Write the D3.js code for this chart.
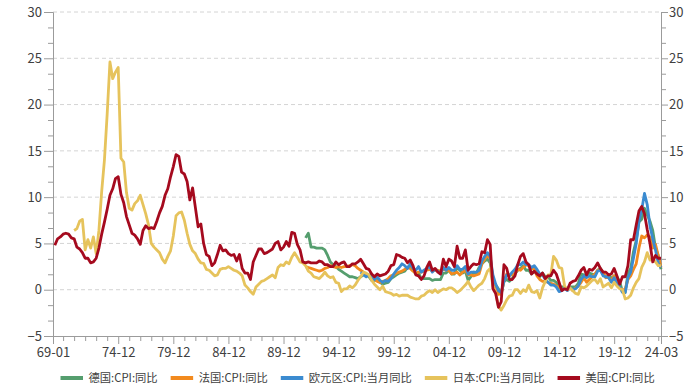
<!DOCTYPE html>
<html><head><meta charset="utf-8">
<script src="https://cdn.jsdelivr.net/npm/d3@7"></script>
<style>
body{margin:0;background:#fff}
svg{display:block}
text{font-family:"Noto Sans CJK SC","Noto Sans",sans-serif}
</style>
</head><body>
<svg id="c" width="690" height="390"></svg>
<script>
// ---- data (quarterly YoY %, step 3 months from the start month) ----
const seriesNames = ["德国:CPI:同比","法国:CPI:同比","欧元区:CPI:当月同比","日本:CPI:当月同比","美国:CPI:同比"];
const seriesColors = ["#559e6e","#f28a1e","#3b8bd0","#e6c35c","#a50a1e"];
const seriesStarts = ["1991-12","1991-12","1996-12","1970-12","1969-03"];

const germanyCPI = [5.6,
 6.1,4.6,4.6,4.5, 4.5,4.5,4.3,3.7, 3.0,2.7,2.5,2.2, 2.0,1.8,1.6,1.4, 1.4,1.3,1.2,1.4,
 1.6,1.7,1.4,1.0, 1.0,1.0,0.8,0.6, 0.7,0.8,1.2,1.4, 1.6,1.8,1.9,2.0, 2.4,2.6,2.1,1.7,
 1.8,1.2,1.2,1.2, 1.2,1.0,1.1,1.1, 1.1,1.8,1.8,2.1, 1.7,1.7,2.4,2.1, 1.8,2.0,1.0,1.4,
 1.9,1.8,2.4,2.8, 3.1,3.3,2.9,1.1, 0.5,0.1,-0.5,0.9, 1.1,0.9,1.2,1.7, 2.1,2.3,2.6,2.1,
 2.1,1.7,2.0,2.0, 1.4,1.8,1.4,1.4, 1.0,1.0,0.8,0.2, 0.3,0.3,0.0,0.3, 0.3,0.3,0.7,1.7,
 1.6,1.6,1.8,1.7, 1.6,2.1,2.3,1.7, 1.3,1.6,1.2,1.5, 1.4,0.9,-0.2,-0.3, 1.7,2.3,4.1,5.3,
 7.3,7.6,8.8,8.1, 7.4,6.4,4.5,3.7, 2.2];

const franceCPI = [2.5,
 2.4,2.3,2.2,2.1, 2.0,2.1,2.3,2.4, 2.6,2.5,2.4,2.5, 2.4,2.5,2.5,2.6, 2.7,2.6,2.3,2.1,
 1.9,1.6,1.5,1.3, 1.1,0.9,0.8,0.9, 1.0,1.2,1.5,1.6, 1.8,1.9,2.0,2.2, 2.4,2.3,2.0,1.8,
 1.9,1.9,2.0,2.1, 2.2,2.0,2.1,2.1, 2.0,2.2,2.1,2.1, 1.7,1.8,1.9,1.6, 1.9,2.1,1.6,1.6,
 1.5,1.6,1.7,2.8, 3.3,3.7,3.4,1.2, 0.4,-0.5,-0.4,0.9, 1.7,1.6,1.6,1.8, 2.2,2.1,2.4,2.7,
 2.6,2.3,2.2,1.5, 1.1,0.9,0.9,0.8, 0.7,0.6,0.4,0.3, 0.0,0.2,0.0,0.2, -0.1,0.2,0.4,0.8,
 1.3,0.8,1.1,1.4, 1.7,2.1,2.2,1.9, 1.3,1.3,1.0,1.5, 0.7,0.2,0.0,0.0, 1.1,1.5,2.2,2.8,
 4.5,5.8,5.6,5.9, 5.7,4.5,4.9,3.7, 2.4];

const euroAreaCPI = [1.9,
 1.6,1.4,1.6,1.5, 1.1,1.4,1.0,0.8, 1.0,0.9,1.2,1.7, 2.1,2.4,2.8,2.6, 2.3,2.8,2.3,2.1,
 2.5,1.9,2.1,2.3, 2.5,1.9,2.2,2.0, 1.7,2.4,2.1,2.4, 2.1,2.1,2.6,2.2, 2.2,2.5,1.7,1.9,
 1.9,1.9,2.1,3.1, 3.6,4.0,3.6,1.6, 0.6,-0.1,-0.3,0.9, 1.6,1.5,1.9,2.2, 2.7,2.7,3.0,2.7,
 2.7,2.4,2.6,2.2, 1.7,1.6,1.1,0.8, 0.5,0.5,0.3,-0.2, -0.1,0.2,-0.1,0.2, 0.0,0.1,0.4,1.1,
 1.5,1.3,1.5,1.4, 1.4,2.0,2.1,1.5, 1.4,1.3,0.8,1.3, 0.7,0.3,-0.3,-0.3, 1.3,1.9,3.4,5.0,
 7.4,8.6,10.4,9.2, 6.9,5.5,4.3,2.9, 2.4];

const japanCPI = [6.4,
 6.6,7.4,7.6,4.3, 5.4,4.5,5.7,3.9, 6.4,10.6,14.0,19.0, 24.6,22.8,23.5,24.0, 14.2,13.8,10.5,8.8,
 8.6,9.3,9.6,10.2, 9.2,8.2,7.0,5.0, 4.6,4.3,4.0,3.3, 2.9,3.6,4.2,5.8, 8.0,8.3,8.4,7.5,
 6.1,4.9,4.2,3.9, 3.3,2.9,2.85,2.2, 2.1,1.8,1.5,1.6, 2.2,2.3,2.3,2.5, 2.3,2.1,2.0,1.8,
 1.5,0.5,0.2,-0.2, -0.5,0.3,0.6,0.9, 1.0,1.2,1.4,1.6, 1.3,2.4,2.7,2.6, 3.0,2.8,3.5,4.0,
 3.5,3.0,2.9,2.6, 2.0,1.8,1.4,1.3, 1.2,1.5,1.9,1.5, 1.3,1.4,0.8,0.7, -0.2,0.1,0.1,0.4,
 0.2,0.5,1.0,1.4, 1.9,1.8,1.6,1.0, 0.6,0.3,0.0,0.4, -0.2,-0.3,-0.4,-0.6, -0.5,-0.7,-0.6,-0.6,
 -0.6,-0.8,-0.9,-1.0, -1.0,-0.7,-0.6,-0.3, -0.1,-0.3,0.0,-0.3, -0.1,0.1,0.0,0.2, 0.2,0.0,-0.3,-0.1,
 0.2,0.5,0.9,0.3, -0.1,0.2,0.5,0.7, 1.2,2.0,2.3,0.4, -0.3,-1.8,-2.2,-1.7, -1.1,-0.7,-0.6,0.0,
 0.0,-0.4,0.0,-0.2, 0.5,-0.2,-0.3,-0.1, -0.9,0.2,0.9,1.6, 1.6,3.6,3.2,2.4, 2.3,0.4,0.0,0.2,
 -0.1,-0.4,-0.5,0.3, 0.2,0.4,0.7,1.0, 1.1,0.7,1.2,0.3, 0.5,0.7,0.2,0.8, 0.4,0.1,0.0,-1.0,
 -0.9,-0.6,0.2,0.8, 1.2,2.4,3.0,4.0, 3.2,3.3,3.0,2.6, 2.6];

const usCPI = [
 4.8,5.5,5.7,6.0, 6.1,6.0,5.6,5.5, 4.6,4.4,4.0,3.4, 3.4,2.9,3.0,3.4, 4.5,6.0,7.3,8.7,
 10.2,10.9,12.0,12.2, 10.3,9.4,7.9,7.0, 6.1,5.9,5.5,4.9, 6.4,6.9,6.6,6.7, 6.6,7.4,8.3,9.0,
 10.2,10.9,12.2,13.3, 14.6,14.4,12.7,12.5, 11.7,9.7,11.0,8.9, 6.8,7.1,5.0,3.8, 3.6,2.6,2.9,3.8,
 4.8,4.2,4.3,3.9, 3.7,3.8,3.1,3.8, 2.3,1.8,1.8,1.1, 3.0,3.7,4.4,4.4, 3.9,4.0,4.2,4.4,
 5.0,5.2,4.3,4.6, 5.2,4.7,6.2,6.1, 4.9,4.3,3.0,2.9, 3.0,2.9,2.9,2.9, 3.1,3.0,2.7,2.7,
 2.5,2.5,3.0,2.7, 2.9,3.0,2.5,2.5, 2.8,2.8,3.0,3.3, 2.8,2.3,2.2,1.7, 1.4,1.7,1.5,1.6,
 1.7,2.0,2.6,2.7, 3.8,3.7,3.5,3.4, 2.9,3.2,2.6,1.6, 1.5,1.1,1.5,2.4, 3.0,2.1,2.3,1.9,
 1.7,3.3,2.5,3.3, 3.1,2.5,4.7,3.4, 3.4,4.3,2.1,2.5, 2.8,2.7,2.8,4.1, 4.0,5.4,4.9,0.1,
 -0.4,-1.9,-1.3,2.7, 2.3,1.1,1.1,1.5, 2.7,3.6,3.9,3.0, 2.7,1.7,2.0,1.7, 1.5,1.8,1.2,1.5,
 1.5,2.1,1.7,0.8, -0.1,0.1,0.0,0.7, 0.9,1.0,1.5,2.1, 2.4,1.6,2.2,2.1, 2.4,2.9,2.3,1.9,
 1.9,1.6,1.7,2.3, 1.5,0.6,1.4,1.4, 2.6,5.4,5.4,7.0, 8.5,9.0,8.2,6.5, 5.0,3.0,3.7,3.4,
 3.4];

const xTickLabels = ["69-01","74-12","79-12","84-12","89-12","94-12","99-12","04-12","09-12","14-12","19-12","24-03"];
const yTickValues = [-5,0,5,10,15,20,25,30];

// ---- helpers ----
const monthIndex = s => { const [Y,M] = s.split("-").map(Number); return (Y-1969)*12 + (M-1); };
const labelMonth = l => { const [yy,mm] = l.split("-").map(Number); const Y = yy >= 50 ? 1900+yy : 2000+yy; return (Y-1969)*12 + (mm-1); };

const allSeries = [germanyCPI, franceCPI, euroAreaCPI, japanCPI, usCPI];

const svg = d3.select("#c");
const L = 53, R = 661, T = 12, B = 336;
const lastMonth = labelMonth(xTickLabels[xTickLabels.length-1]);
const x = d3.scaleLinear().domain([0, lastMonth]).range([L, R]);
const y = d3.scaleLinear().domain([-5, 30]).range([B, T]);

const axisColor = "#9b9b9b", textColor = "#404040";

// grid
svg.append("g").selectAll("line").data(yTickValues.filter(v => v > -5)).join("line")
  .attr("x1", L).attr("x2", R).attr("y1", d => y(d)).attr("y2", d => y(d))
  .attr("stroke", "#d4d4d4").attr("stroke-width", 1).attr("stroke-dasharray", "4,3");

// minor tick positions
const yMinor = d3.range(-5, 30.001, 5/3).filter(v => Math.abs(v/5 - Math.round(v/5)) > 0.01);
const xMajor = xTickLabels.map(labelMonth);
const xMinor = d3.range(11, lastMonth, 12).filter(m => !xMajor.includes(m));

function styleAxis(g){
  g.select(".domain").attr("stroke", axisColor);
  g.selectAll(".tick line").attr("stroke", axisColor);
  g.selectAll(".tick text").attr("fill", textColor).style("font-size", "13px")
    .style("font-family", '"Noto Sans CJK SC","Noto Sans",sans-serif');
}

// left
svg.append("g").attr("transform", `translate(${L},0)`)
  .call(d3.axisLeft(y).tickValues(yMinor).tickSize(5).tickSizeOuter(0).tickFormat(""))
  .call(styleAxis);
svg.append("g").attr("transform", `translate(${L},0)`)
  .call(d3.axisLeft(y).tickValues(yTickValues).tickSize(9).tickPadding(2).tickSizeOuter(0))
  .call(styleAxis);
// right
svg.append("g").attr("transform", `translate(${R},0)`)
  .call(d3.axisRight(y).tickValues(yMinor).tickSize(5).tickSizeOuter(0).tickFormat(""))
  .call(styleAxis);
svg.append("g").attr("transform", `translate(${R},0)`)
  .call(d3.axisRight(y).tickValues(yTickValues).tickSize(7).tickPadding(1).tickSizeOuter(0))
  .call(styleAxis);
// bottom
svg.append("g").attr("transform", `translate(0,${B})`)
  .call(d3.axisBottom(x).tickValues(xMinor).tickSize(5).tickSizeOuter(0).tickFormat(""))
  .call(styleAxis);
svg.append("g").attr("transform", `translate(0,${B})`)
  .call(d3.axisBottom(x).tickValues(xMajor).tickSize(8).tickPadding(4).tickSizeOuter(0)
        .tickFormat((d,i) => xTickLabels[i]))
  .call(styleAxis);

// lines
const line = d3.line().x(d => x(d.m)).y(d => y(d.v));
allSeries.forEach((vals, i) => {
  const s = monthIndex(seriesStarts[i]);
  const pts = vals.map((v, k) => ({m: s + 3*k, v}));
  svg.append("path").datum(pts).attr("d", line)
    .attr("fill", "none").attr("stroke", seriesColors[i])
    .attr("stroke-width", 2.8).attr("stroke-linejoin", "round");
});

// legend
const lg = svg.append("g");
let lx = 60.5;
const ly = 378;
seriesNames.forEach((n, i) => {
  lg.append("line").attr("x1", lx).attr("x2", lx + 22.5).attr("y1", ly).attr("y2", ly)
    .attr("stroke", seriesColors[i]).attr("stroke-width", 4);
  const t = lg.append("text").attr("x", lx + 28).attr("y", ly).attr("dy", "0.35em")
    .attr("fill", textColor).style("font-size", "11.3px").text(n);
  lx += 28 + t.node().getComputedTextLength() + 13;
});
</script>
</body></html>
